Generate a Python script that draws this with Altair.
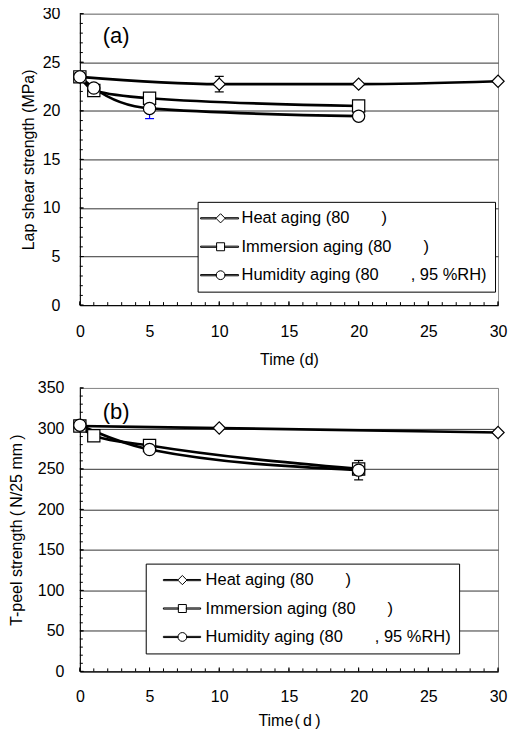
import altair as alt
import pandas as pd

FONT = "Liberation Sans, Arial, Noto Sans CJK JP, sans-serif"
GAP = "\u00a0" * 7

SERIES = [
    "Heat aging (80" + GAP + ")",
    "Immersion aging (80" + GAP + ")",
    "Humidity aging (80" + GAP + ", 95 %RH)",
]

# ---- panel (a): lap shear strength (MPa)
a_heat_t = [0, 10, 20, 30]
a_heat_v = [23.5, 22.75, 22.75, 23.05]
a_imm_t = [0, 1, 5, 20]
a_imm_v = [23.5, 22.1, 21.3, 20.5]
a_hum_t = [0, 1, 5, 20]
a_hum_v = [23.5, 22.35, 20.25, 19.45]
a_err_series = [0, 2]
a_err_t = [10, 5]
a_err_v = [22.75, 20.25]
a_err_e = [0.8, 1.05]
a_err_c = ["black", "#0000ff"]

# ---- panel (b): T-peel strength (N/25 mm)
b_heat_t = [0, 10, 30]
b_heat_v = [303, 300.5, 295]
b_imm_t = [0, 1, 5, 20]
b_imm_v = [303, 291, 279, 250]
b_hum_t = [0, 5, 20]
b_hum_v = [304, 274, 248.5]
b_err_series = [2]
b_err_t = [20]
b_err_v = [248.5]
b_err_e = [12]
b_err_c = ["black"]

X_MAJOR = list(range(0, 31, 5))
X_MINOR = list(range(0, 31, 1))


def series_df(ts, vs):
    rows = []
    for name, t, v in zip(SERIES, ts, vs):
        for ti, vi in zip(t, v):
            rows.append({"s": name, "t": ti, "v": vi})
    return pd.DataFrame(rows)


def err_df(idx, t, v, e, c):
    return pd.DataFrame({
        "s": [SERIES[i] for i in idx], "t": t,
        "lo": [vi - ei for vi, ei in zip(v, e)],
        "hi": [vi + ei for vi, ei in zip(v, e)],
        "c": c,
    })


# legend symbol = short line with marker on it (custom SVG paths, unit = R px)
R = 8.0


def f(v):
    return f"{v / R:.4f}"


def leg_paths(line_start, marker_c, line_end):
    th = 0.6
    out = []
    for kind, half in (("diamond", 4.6), ("square", 4.0), ("circle", 4.4)):
        l1 = f"M{f(line_start)},{f(-th)}H{f(marker_c - half)}V{f(th)}H{f(line_start)}Z"
        l2 = f"M{f(marker_c + half)},{f(-th)}H{f(line_end)}V{f(th)}H{f(marker_c + half)}Z"
        if kind == "diamond":
            m = (f"M{f(marker_c - half)},0L{f(marker_c)},{f(-half)}"
                 f"L{f(marker_c + half)},0L{f(marker_c)},{f(half)}Z")
        elif kind == "square":
            m = (f"M{f(marker_c - half)},{f(-half)}H{f(marker_c + half)}"
                 f"V{f(half)}H{f(marker_c - half)}Z")
        else:
            m = (f"M{f(marker_c - half)},0A{f(half)},{f(half)} 0 1,1 {f(marker_c + half)},0"
                 f"A{f(half)},{f(half)} 0 1,1 {f(marker_c - half)},0Z")
        out.append(" ".join([l1, l2, m]))
    return out


def panel(df, edf, ymax, ystep, yminor, ytitle, xtitle, tag, tag_x, tag_y,
          width, height, lx, ly, ylab_pad, ytitle_pad, xlab_pad, xtitle_pad,
          paths, lab_off, lab_expr):
    xs = alt.Scale(domain=[0, 30], nice=False, zero=False)
    ys = alt.Scale(domain=[0, ymax], nice=False, zero=False)
    y_major = list(range(0, ymax + 1, ystep))
    y_minor = list(range(0, ymax + 1, yminor))
    common = dict(labelFont=FONT, titleFont=FONT, labelColor="black",
                  titleColor="black", titleFontWeight="normal", labelFlush=False)
    x_ax = alt.Axis(values=X_MAJOR, ticks=False, tickSize=0,
                    grid=False, domainColor="black", domainWidth=1,
                    labelFontSize=16, titleFontSize=16, title=xtitle,
                    labelPadding=xlab_pad, titlePadding=xtitle_pad, **common)
    y_ax = alt.Axis(values=y_major, ticks=False, tickSize=0, grid=True,
                    gridColor={"condition": {"test": f"datum.value >= {ymax}",
                                             "value": "#8c8c8c"},
                               "value": "#333333"},
                    gridWidth=1, domainColor="black", domainWidth=1,
                    labelFontSize=16, titleFontSize=16, title=ytitle,
                    labelPadding=ylab_pad, titlePadding=ytitle_pad, **common)

    base = alt.Chart(df)
    lines = base.mark_line(color="black", strokeWidth=2.7,
                           interpolate="monotone").encode(
        x=alt.X("t:Q", scale=xs, axis=x_ax, title=xtitle),
        y=alt.Y("v:Q", scale=ys, axis=y_ax, title=ytitle),
        detail="s:N",
    )

    # inward-pointing axis ticks (drawn at the tick values through the scales)
    def xticks(vals, size):
        return alt.Chart(pd.DataFrame({"t": vals})).mark_point(
            shape="M0,0V-1", filled=False, color="black", strokeWidth=1,
            size=size, opacity=1).encode(
            x=alt.X("t:Q", scale=xs, title=xtitle), y=alt.datum(0))

    def yticks(vals, size):
        return alt.Chart(pd.DataFrame({"v": vals})).mark_point(
            shape="M0,0H1", filled=False, color="black", strokeWidth=1,
            size=size, opacity=1).encode(
            x=alt.datum(0), y=alt.Y("v:Q", scale=ys, title=ytitle))

    ebase = alt.Chart(edf)
    erule = ebase.mark_rule(strokeWidth=1.2).encode(
        x=alt.X("t:Q", scale=xs, title=xtitle),
        y=alt.Y("lo:Q", scale=ys, title=ytitle),
        y2="hi:Q",
        color=alt.Color("c:N", scale=None),
    )
    cap_lo = ebase.mark_point(shape="M-1,0H1", filled=False, strokeWidth=1.2,
                              size=81, opacity=1).encode(
        x=alt.X("t:Q", scale=xs, title=xtitle),
        y=alt.Y("lo:Q", scale=ys, title=ytitle),
        stroke=alt.Stroke("c:N", scale=None),
    )
    cap_hi = ebase.mark_point(shape="M-1,0H1", filled=False, strokeWidth=1.2,
                              size=81, opacity=1).encode(
        x=alt.X("t:Q", scale=xs, title=xtitle),
        y=alt.Y("hi:Q", scale=ys, title=ytitle),
        stroke=alt.Stroke("c:N", scale=None),
    )
    pts = base.mark_point(filled=True, fill="white", stroke="black",
                          strokeWidth=1.2, size=150, opacity=1).encode(
        x=alt.X("t:Q", scale=xs, title=xtitle),
        y=alt.Y("v:Q", scale=ys, title=ytitle),
        shape=alt.Shape("s:N", scale=alt.Scale(domain=SERIES,
                        range=["diamond", "square", "circle"]), legend=None),
    )
    tagc = alt.Chart(pd.DataFrame({"t": [tag_x], "v": [tag_y], "l": [tag]})).mark_text(
        align="left", baseline="middle", font=FONT, fontSize=22, color="black"
    ).encode(
        x=alt.X("t:Q", scale=xs, title=xtitle),
        y=alt.Y("v:Q", scale=ys, title=ytitle),
        text="l:N",
    )
    legend_kw = dict(
        title=None, orient="none", legendX=lx, legendY=ly,
        strokeColor="black", fillColor="white", padding=8,
        labelFont=FONT, labelFontSize=16.5, labelColor="black",
        labelOffset=lab_off, labelLimit=0, symbolSize=R * R * 4,
        symbolStrokeWidth=1, symbolStrokeColor="black",
        symbolFillColor="white", rowPadding=11.5)
    if lab_expr:
        legend_kw["labelExpr"] = lab_expr
    leg = base.transform_filter("false").mark_point(
        filled=False, color="black", strokeWidth=1, size=R * R * 4,
        opacity=1).encode(
        shape=alt.Shape("s:N", scale=alt.Scale(domain=SERIES, range=paths),
                        legend=alt.Legend(**legend_kw)),
    )
    return alt.layer(
        lines, xticks(X_MINOR, 36), xticks(X_MAJOR, 64),
        yticks(y_minor, 36), yticks(y_major, 64),
        erule, cap_lo, cap_hi, pts, tagc, leg
    ).resolve_scale(shape="independent").resolve_legend(
        shape="independent").properties(width=width, height=height)


pa = panel(series_df([a_heat_t, a_imm_t, a_hum_t], [a_heat_v, a_imm_v, a_hum_v]),
           err_df(a_err_series, a_err_t, a_err_v, a_err_e, a_err_c),
           30, 5, 1, "Lap shear strength (MPa)", "Time (d)", "(a)", 1.64, 27.66,
           419, 292, 118, 188.5, 20, 6, 18, 12,
           leg_paths(-13.5, 6.5, 24.5), 19, None)
pb = panel(series_df([b_heat_t, b_imm_t, b_hum_t], [b_heat_v, b_imm_v, b_hum_v]),
           err_df(b_err_series, b_err_t, b_err_v, b_err_e, b_err_c),
           350, 50, 10, "T-peel strength\u2009(\u2009N/25 mm\u2009)",
           "Time\u200a(\u2009d\u2009)", "(b)", 1.64, 320.7,
           419, 284, 66, 176, 16, 12.3, 17, 8,
           leg_paths(1.2, 20.2, 38.5), 35,
           "datum.label + '\u00a0\u00a0\u00a0\u00a0'")

chart = alt.vconcat(pa, pb, spacing=11).resolve_scale(
    shape="independent").resolve_legend(shape="independent").properties(
    padding={"left": 0, "top": -4, "right": 0, "bottom": 0}
).configure_view(stroke="#8c8c8c", strokeWidth=1)

chart.save("out.html", embed_options={"renderer": "svg", "actions": False})
